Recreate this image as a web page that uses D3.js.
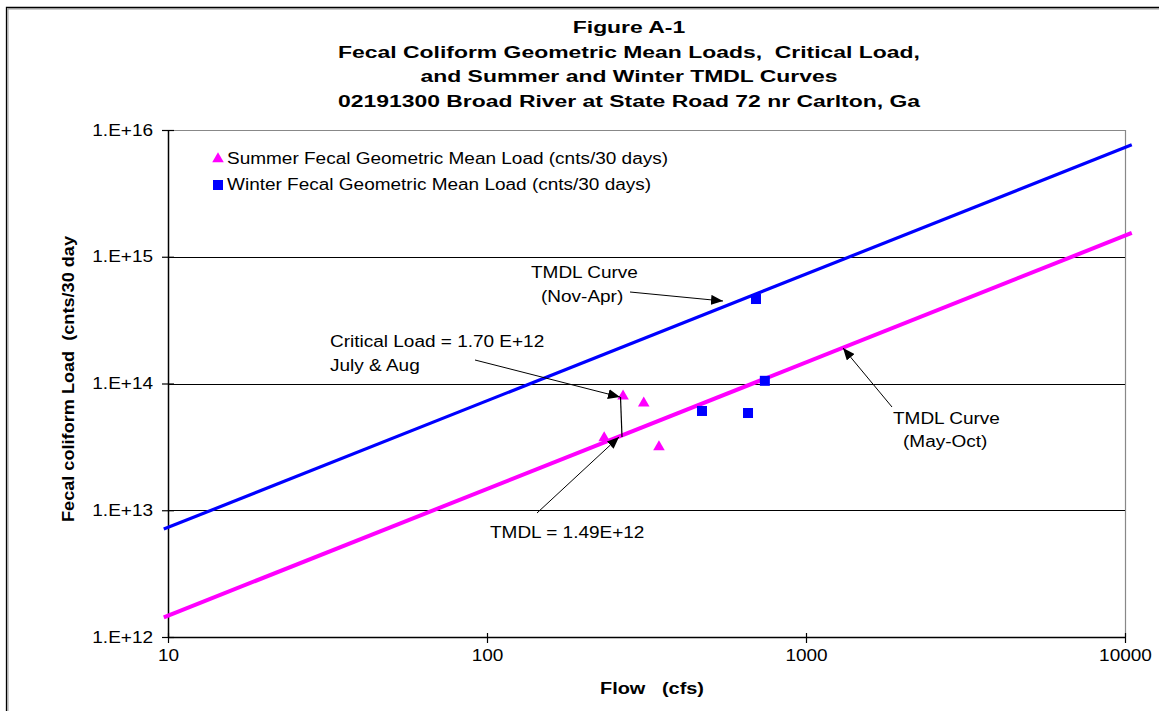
<!DOCTYPE html>
<html>
<head>
<meta charset="utf-8">
<script src="https://cdn.jsdelivr.net/npm/d3@7"></script>
<style>
  body { margin: 0; background: #fff; }
  svg { display: block; font-family: "Liberation Sans", Arial, sans-serif; }
  svg text { white-space: pre; }
</style>
</head>
<body>
<svg id="chart" width="1159" height="711"></svg>
<script>
// data
const summerFlow = [267, 310, 346, 233]
const summerLoad = [7.96e13, 7.0e13, 3.16e13, 3.72e13]
const winterFlow = [697, 743, 472, 658]
const winterLoad = [4.64e14, 1.05e14, 6.07e13, 5.85e13]
const curveFlow = [9.7, 10500]
const winterTmdl = [7.1e12, 7.65e15]
const summerTmdl = [1.43e12, 1.54e15]
const xTicks = [10, 100, 1000, 10000]
const yTicks = [1e12, 1e13, 1e14, 1e15, 1e16]
const yTickLabels = ["1.E+12", "1.E+13", "1.E+14", "1.E+15", "1.E+16"]
const titleLines = [
  "Figure A-1",
  "Fecal Coliform Geometric Mean Loads,  Critical Load,",
  "and Summer and Winter TMDL Curves",
  "02191300 Broad River at State Road 72 nr Carlton, Ga"
]

const svg = d3.select("#chart")
const pLeft = 168, pRight = 1125, pTop = 130, pBottom = 637

const x = d3.scaleLog().domain([10, 10000]).range([pLeft, pRight])
const y = d3.scaleLog().domain([1e12, 1e16]).range([pBottom, pTop])

// the source picture is stretched sideways, so widen glyphs by a factor
function widen(sel, k) {
  sel.each(function() {
    const w = this.getComputedTextLength()
    d3.select(this).attr("textLength", w * k).attr("lengthAdjust", "spacingAndGlyphs")
  })
}

// outer frame
svg.append("path").attr("d", "M7,720 V8 H1170").attr("fill", "none")
  .attr("stroke", "#999").attr("stroke-width", 1).attr("transform", "translate(1,1)")
svg.append("path").attr("d", "M6.5,720 V7.5 H1170").attr("fill", "none")
  .attr("stroke", "#000").attr("stroke-width", 1.3)

// titles
const titles = svg.selectAll("text.title").data(titleLines).enter().append("text")
  .attr("class", "title")
  .attr("x", 629)
  .attr("y", (d, i) => 33 + i * 24.5)
  .attr("text-anchor", "middle")
  .attr("font-weight", "bold")
  .attr("font-size", 16)
  .text(d => d)
const kTitle = 582 / titles.nodes()[3].getComputedTextLength()
widen(titles, kTitle)

// plot border (gray right/top)
svg.append("path").attr("d", `M${pLeft},${pTop + 0.5} H${pRight + 0.5} V${pBottom}`)
  .attr("fill", "none").attr("stroke", "#888").attr("stroke-width", 1.2)

// gridlines
svg.append("g").selectAll("line").data(yTicks.slice(1, 4)).enter().append("line")
  .attr("x1", pLeft).attr("x2", pRight)
  .attr("y1", d => Math.round(y(d)) + 0.5).attr("y2", d => Math.round(y(d)) + 0.5)
  .attr("stroke", "#000").attr("stroke-width", 1)

// legend text sets the stretch for normal text
const leg1 = svg.append("text").attr("x", 227).attr("y", 164).attr("font-size", 16)
  .text("Summer Fecal Geometric Mean Load (cnts/30 days)")
const kText = 441 / leg1.node().getComputedTextLength()
widen(leg1, kText)
const leg2 = svg.append("text").attr("x", 227).attr("y", 190).attr("font-size", 16)
  .text("Winter Fecal Geometric Mean Load (cnts/30 days)")
widen(leg2, kText)

// axes
const yAxis = svg.append("g").attr("transform", `translate(${pLeft},0)`)
  .call(d3.axisLeft(y).tickValues(yTicks).tickSize(6).tickSizeOuter(0)
    .tickFormat((d, i) => yTickLabels[i]))
yAxis.select(".domain").attr("stroke-width", 1.5)
yAxis.selectAll(".tick line").attr("x1", 6).attr("stroke-width", 1.2)
const yLab = yAxis.selectAll(".tick text").attr("x", -15).attr("font-size", 16)
  .attr("font-family", "Liberation Sans, Arial, sans-serif").attr("fill", "#000")
widen(yLab, kText)

const xAxis = svg.append("g").attr("transform", `translate(0,${pBottom})`)
  .call(d3.axisBottom(x).tickValues(xTicks).tickSize(6).tickSizeOuter(0)
    .tickFormat(d3.format("d")))
xAxis.select(".domain").attr("stroke-width", 1.5)
xAxis.selectAll(".tick line").attr("y1", -4).attr("stroke-width", 1.2)
const xLab = xAxis.selectAll(".tick text").attr("y", 13).attr("font-size", 16)
  .attr("font-family", "Liberation Sans, Arial, sans-serif").attr("fill", "#000")
widen(xLab, kText)

// axis titles
svg.append("text").attr("x", 652).attr("y", 694).attr("text-anchor", "middle")
  .attr("font-weight", "bold").attr("font-size", 16)
  .attr("textLength", 104).attr("lengthAdjust", "spacingAndGlyphs")
  .text("Flow   (cfs)")
svg.append("text").attr("transform", "translate(74,522) rotate(-90)")
  .attr("font-weight", "bold").attr("font-size", 16)
  .attr("textLength", 286).attr("lengthAdjust", "spacingAndGlyphs")
  .text("Fecal coliform Load  (cnts/30 day")

// TMDL curves
const line = d3.line().x(d => x(d[0])).y(d => y(d[1]))
svg.append("path").datum(d3.zip(curveFlow, winterTmdl)).attr("d", line)
  .attr("fill", "none").attr("stroke", "#0000FF").attr("stroke-width", 3.2)
svg.append("path").datum(d3.zip(curveFlow, summerTmdl)).attr("d", line)
  .attr("fill", "none").attr("stroke", "#FF00FF").attr("stroke-width", 4)

// points
const tri = d3.symbol().type(d3.symbolTriangle).size(58)
svg.append("g").selectAll("path").data(d3.zip(summerFlow, summerLoad)).enter().append("path")
  .attr("d", tri)
  .attr("transform", d => `translate(${x(d[0])},${y(d[1])})`)
  .attr("fill", "#FF00FF")
svg.append("g").selectAll("rect").data(d3.zip(winterFlow, winterLoad)).enter().append("rect")
  .attr("x", d => x(d[0]) - 5).attr("y", d => y(d[1]) - 5)
  .attr("width", 10).attr("height", 10)
  .attr("fill", "#0000FF")

// legend markers
svg.append("path").attr("d", tri).attr("transform", "translate(218,159)").attr("fill", "#FF00FF")
svg.append("rect").attr("x", 213).attr("y", 180).attr("width", 10).attr("height", 10).attr("fill", "#0000FF")

// annotations
const notes = [
  { t: "TMDL Curve", x: 531, y: 278 },
  { t: "(Nov-Apr)", x: 541, y: 302 },
  { t: "Critical Load = 1.70 E+12", x: 330, y: 347 },
  { t: "July & Aug", x: 330, y: 371 },
  { t: "TMDL = 1.49E+12", x: 490, y: 538 },
  { t: "TMDL Curve", x: 893, y: 424 },
  { t: "(May-Oct)", x: 903, y: 447 }
]
const noteText = svg.append("g").selectAll("text").data(notes).enter().append("text")
  .attr("x", d => d.x).attr("y", d => d.y).attr("font-size", 16)
  .text(d => d.t)
widen(noteText, kText)

svg.append("defs").append("marker").attr("id", "head")
  .attr("viewBox", "0 0 12 10").attr("refX", 12).attr("refY", 5)
  .attr("markerWidth", 12).attr("markerHeight", 10).attr("markerUnits", "userSpaceOnUse")
  .attr("orient", "auto")
  .append("path").attr("d", "M0,0 L12,5 L0,10 Z").attr("fill", "#000")

const arrows = [
  [630, 292, 723, 301],
  [475, 360, 620, 397],
  [537, 513, 619, 437],
  [892, 407, 843, 348]
]
svg.append("g").selectAll("line").data(arrows).enter().append("line")
  .attr("x1", d => d[0]).attr("y1", d => d[1]).attr("x2", d => d[2]).attr("y2", d => d[3])
  .attr("stroke", "#000").attr("stroke-width", 1).attr("marker-end", "url(#head)")
svg.append("line").attr("x1", 620.5).attr("y1", 397).attr("x2", 622).attr("y2", 437)
  .attr("stroke", "#000").attr("stroke-width", 1.2)
</script>
</body>
</html>
